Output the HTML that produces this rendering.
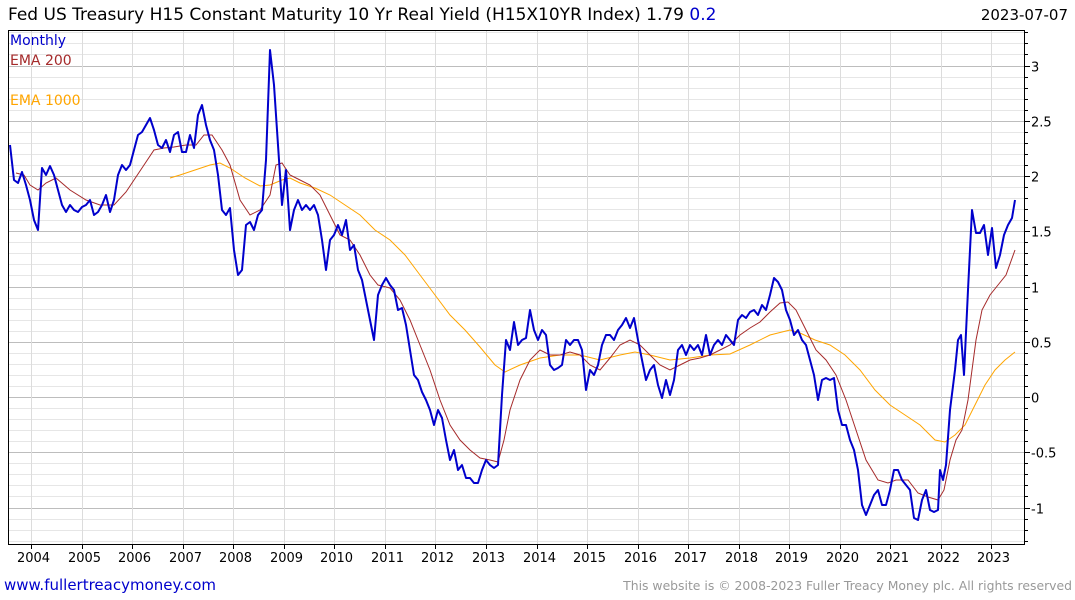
<!DOCTYPE html>
<html><head><meta charset="utf-8"><style>
html,body{margin:0;padding:0;background:#fff;}
svg{display:block;font-family:"DejaVu Sans","Liberation Sans",sans-serif;}
</style></head><body>
<svg width="1075" height="600" viewBox="0 0 1075 600" xmlns="http://www.w3.org/2000/svg">
<rect width="1075" height="600" fill="#fff"/>
<g id="minor" stroke="#e6e6e6" stroke-width="1"></g>
<g id="major" stroke="#bdbdbd" stroke-width="1"></g>
<g id="vert" stroke="#dcdcdc" stroke-width="1"></g>
<rect x="8.5" y="30.5" width="1016" height="514" fill="none" stroke="#000" stroke-width="1"/>
<g id="ticks" stroke="#000" stroke-width="1"></g>
<g id="ylab" font-size="13" fill="#000"></g>
<g id="xlab" font-size="13" fill="#000" text-anchor="middle"></g>
<polyline fill="none" stroke="#ffa500" stroke-width="1" points="170,178 180,175 195,170 210,165 220,163 230,168 245,178 260,186 270,185 282,180 290,178 300,183 315,188 330,195 345,205 360,215 375,230 390,240 405,255 420,275 435,295 450,315 465,330 480,347 495,365 505,372 520,365 540,358 560,355 580,355 600,360 620,355 635,352 650,355 670,360 690,358 710,355 730,354 750,345 770,335 790,330 800,333 815,340 830,345 845,355 860,370 875,390 890,405 905,415 920,425 935,440 945,442 955,435 965,425 975,405 985,385 995,370 1005,360 1015,352"/>
<polyline fill="none" stroke="#a52a2a" stroke-width="1" points="16,173 24,175 30,185 38,190 46,183 56,178 70,190 86,200 100,205 114,205 126,192 134,180 144,165 154,150 164,148 174,147 186,145 196,145 204,135 212,135 222,150 230,165 240,200 250,215 260,210 270,195 276,165 282,163 290,175 300,180 310,185 320,195 330,215 340,235 350,240 360,255 370,275 378,285 390,288 400,300 410,320 420,345 430,370 440,400 450,425 460,440 470,450 480,458 490,460 498,462 504,440 510,410 520,380 530,360 540,350 550,355 560,355 570,352 580,355 590,365 600,370 610,358 620,345 630,340 640,345 650,355 660,365 670,370 680,365 690,360 700,358 710,355 720,350 730,345 740,335 750,328 760,322 770,312 780,303 788,302 796,310 806,330 816,350 826,360 836,375 846,400 856,430 866,460 878,480 888,483 896,480 908,480 918,493 928,497 938,500 944,490 950,460 956,440 962,430 968,400 976,340 982,310 990,295 998,285 1006,275 1015,250"/>
<polyline fill="none" stroke="#0000cc" stroke-width="2" stroke-linejoin="round" points="10,145 14,180 18,183 22,172 26,185 30,200 34,220 38,230 42,168 46,175 50,166 54,175 58,190 62,205 66,212 70,205 74,210 78,212 82,207 86,205 90,200 94,215 98,212 102,205 106,195 110,212 114,200 118,175 122,165 126,170 130,165 134,150 138,135 142,132 146,125 150,118 154,130 158,145 162,148 166,140 170,152 174,135 178,132 182,152 186,152 190,135 194,148 198,115 202,105 206,125 210,140 214,150 218,175 222,210 226,215 230,208 234,250 238,275 242,270 246,225 250,222 254,230 258,215 262,210 266,160 270,50 274,85 278,145 282,205 286,170 290,230 294,210 298,200 302,210 306,205 310,210 314,205 318,215 322,240 326,270 330,240 334,235 338,225 342,235 346,220 350,250 354,245 358,270 362,280 366,300 370,320 374,340 378,295 382,285 386,278 390,285 394,290 398,310 402,308 406,325 410,350 414,375 418,380 422,392 426,400 430,410 434,425 438,410 442,418 446,440 450,460 454,450 458,470 462,465 466,478 470,478 474,483 478,483 482,470 486,460 490,465 494,468 498,465 502,395 506,340 510,350 514,322 518,345 522,340 526,338 530,310 534,330 538,340 542,330 546,335 550,365 554,370 558,368 562,365 566,340 570,345 574,340 578,340 582,350 586,390 590,370 594,375 598,365 602,345 606,335 610,335 614,340 618,330 622,325 626,318 630,328 634,318 638,340 642,360 646,380 650,370 654,365 658,385 662,398 666,380 670,395 674,380 678,350 682,345 686,355 690,345 694,350 698,345 702,355 706,335 710,355 714,345 718,340 722,345 726,335 730,340 734,345 738,320 742,315 746,318 750,312 754,310 758,315 762,305 766,310 770,295 774,278 778,282 782,290 786,310 790,320 794,335 798,330 802,340 806,345 810,360 814,375 818,400 822,380 826,378 830,380 834,378 838,410 842,425 846,425 850,440 854,450 858,470 862,505 866,515 870,505 874,495 878,490 882,505 886,505 890,490 894,470 898,470 902,480 906,485 910,490 914,518 918,520 922,500 926,490 930,510 934,512 938,510 940,470 943,480 946,465 950,410 955,370 958,340 961,335 964,375 968,290 972,210 976,233 980,233 984,225 988,255 992,228 996,268 1000,255 1004,235 1008,225 1012,218 1015,200"/>
<text x="8" y="20" font-size="17" fill="#000">Fed US Treasury H15 Constant Maturity 10 Yr Real Yield (H15X10YR Index) 1.79 <tspan fill="#0000cc">0.2</tspan></text>
<text x="1068" y="20" font-size="15" fill="#000" text-anchor="end">2023-07-07</text>
<text x="10" y="45" font-size="14" fill="#0000cc">Monthly</text>
<text x="10" y="65" font-size="14" fill="#a52a2a">EMA 200</text>
<text x="10" y="105" font-size="14" fill="#ffa500">EMA 1000</text>
<text x="4" y="590" font-size="15" fill="#0000cc">www.fullertreacymoney.com</text>
<text x="1072" y="590" font-size="12.4" fill="#999" text-anchor="end">This website is © 2008-2023 Fuller Treacy Money plc. All rights reserved</text>
<script>
var ns="http://www.w3.org/2000/svg";
function el(p,t,a,txt){var e=document.createElementNS(ns,t);for(var k in a)e.setAttribute(k,a[k]);if(txt)e.textContent=txt;document.getElementById(p).appendChild(e);}
for(var i=-13;i<=33;i++){var v=i/10,y=Math.round(397-v*110.5)+0.5;if(y<31||y>544)continue;
 var maj=(i%5===0);el(maj?"major":"minor","line",{x1:9,x2:1024,y1:y,y2:y});
 el("ticks","line",{x1:1024,x2:maj?1030:1028,y1:y,y2:y});
 if(maj){var s=(v%1===0)?String(v):v.toFixed(1);el("ylab","text",{x:1031,y:y+5},s);}
}
for(var k=0;k<20;k++){var x=Math.round(31+k*50.55)+0.5;el("vert","line",{x1:x,x2:x,y1:31,y2:544});
 el("ticks","line",{x1:x,x2:x,y1:544,y2:549});el("xlab","text",{x:x+2,y:562},String(2004+k));}
</script>
</svg>
</body></html>
